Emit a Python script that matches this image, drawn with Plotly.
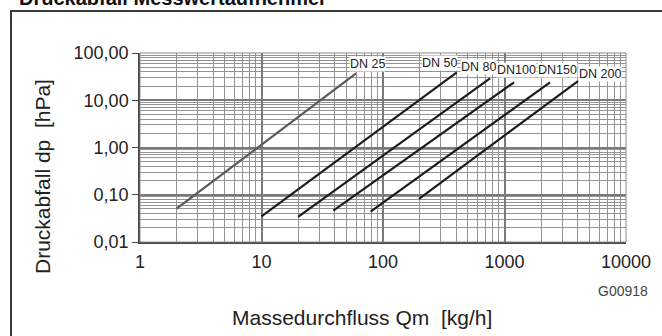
import math
import plotly.graph_objects as go

# ---- data ----
series_names = ["DN 25", "DN 50", "DN 80", "DN100", "DN150", "DN 200"]
qm_start = [2, 10, 20, 39, 79, 198]          # kg/h
qm_end = [60, 405, 760, 1200, 2370, 4030]    # kg/h
dp_start = [0.051, 0.035, 0.034, 0.046, 0.044, 0.082]  # hPa
dp_end = [37, 39, 29, 24, 24, 25.5]          # hPa

x_tickvals = [1, 10, 100, 1000, 10000]
x_ticktext = ["1", "10", "100", "1000", "10000"]
y_tickvals = [0.01, 0.1, 1, 10, 100]
y_ticktext = ["0,01", "0,10", "1,00", "10,00", "100,00"]

title_text = "Druckabfall Messwertaufnehmer"
x_title = "Massedurchfluss Qm  [kg/h]"
y_title = "Druckabfall dp  [hPa]"
code_text = "G00918"

# ---- styles ----
line_colors = ["#5a5a5a", "#1c1c1c", "#1c1c1c", "#1c1c1c", "#1c1c1c", "#1c1c1c"]
label_shift = [(11, 9), (-17, 9), (-12, 11), (2, 12), (7, 12), (22, 7)]

W, H = 662, 336
ML, MR, MT, MB = 140, 36, 53, 94
PW, PH = W - ML - MR, H - MT - MB


def px_to_paper(px, py):
    return (px - ML) / PW, (H - MB - py) / PH


fig = go.Figure()
for name, xs, xe, ys, ye, col in zip(series_names, qm_start, qm_end, dp_start, dp_end, line_colors):
    fig.add_trace(go.Scatter(x=[xs, xe], y=[ys, ye], mode="lines", name=name,
                             line=dict(color=col, width=2.2), showlegend=False,
                             hoverinfo="skip"))

annotations = []
for name, xe, ye, (dx, dy) in zip(series_names, qm_end, dp_end, label_shift):
    annotations.append(dict(x=math.log10(xe), y=math.log10(ye), xref="x", yref="y",
                            text=name, showarrow=False, xanchor="center", yanchor="middle",
                            xshift=dx, yshift=dy, bgcolor="white", borderpad=0,
                            font=dict(family="Liberation Sans, Arial", size=12.5, color="#222")))

tx, ty = px_to_paper(17, 11)
annotations.append(dict(x=tx, y=ty, xref="paper", yref="paper", text="<b>%s</b>" % title_text,
                        showarrow=False, xanchor="left", yanchor="bottom",
                        font=dict(family="Liberation Sans, Arial", size=20, color="#111")))
xx, xy = px_to_paper(362, 317)
annotations.append(dict(x=xx, y=xy, xref="paper", yref="paper", text=x_title,
                        showarrow=False, xanchor="center", yanchor="middle",
                        font=dict(family="Liberation Sans, Arial", size=21, color="#222")))
yx, yy = px_to_paper(42, 177)
annotations.append(dict(x=yx, y=yy, xref="paper", yref="paper", text=y_title, textangle=-90,
                        showarrow=False, xanchor="center", yanchor="middle",
                        font=dict(family="Liberation Sans, Arial", size=21, color="#222")))
gx, gy = px_to_paper(650, 291)
annotations.append(dict(x=gx, y=gy, xref="paper", yref="paper", text=code_text,
                        showarrow=False, xanchor="right", yanchor="middle",
                        font=dict(family="Liberation Sans, Arial", size=14, color="#444")))

fx0, fy0 = px_to_paper(11, 11)
fx1, fy1 = px_to_paper(670, 345)
shapes = [
    dict(type="rect", xref="paper", yref="paper", x0=fx0, y0=fy1, x1=fx1, y1=fy0,
         line=dict(color="#3a3a3a", width=2), layer="below"),
    dict(type="rect", xref="paper", yref="paper", x0=0, y0=0, x1=1, y1=1,
         line=dict(color="#8a8a8a", width=1), layer="above"),
]

fig.update_layout(
    width=W, height=H, margin=dict(l=ML, r=MR, t=MT, b=MB, pad=0),
    paper_bgcolor="white", plot_bgcolor="white",
    font=dict(family="Liberation Sans, Arial", color="#222"),
    annotations=annotations, shapes=shapes,
)
fig.update_xaxes(type="log", range=[0, 4], tickvals=x_tickvals, ticktext=x_ticktext,
                 tickfont=dict(size=18, color="#222"), ticks="", showline=True,
                 linecolor="#444", linewidth=1.5, showgrid=True, gridcolor="#7a7a7a",
                 gridwidth=1.6, ticklabelstandoff=3,
                 minor=dict(dtick="D1", showgrid=True, gridcolor="#939393", gridwidth=1, ticks=""))
fig.update_yaxes(type="log", range=[-2, 2], tickvals=y_tickvals, ticktext=y_ticktext,
                 tickfont=dict(size=18, color="#222"), ticks="outside", ticklen=6,
                 tickcolor="#444", showline=True, linecolor="#444", linewidth=1.5,
                 showgrid=True, gridcolor="#7a7a7a", gridwidth=1.6,
                 minor=dict(dtick="D1", showgrid=True, gridcolor="#939393", gridwidth=1, ticks=""))

fig.write_html("out.html", config={"displayModeBar": False},
               post_script="document.body.style.margin='0px';")
